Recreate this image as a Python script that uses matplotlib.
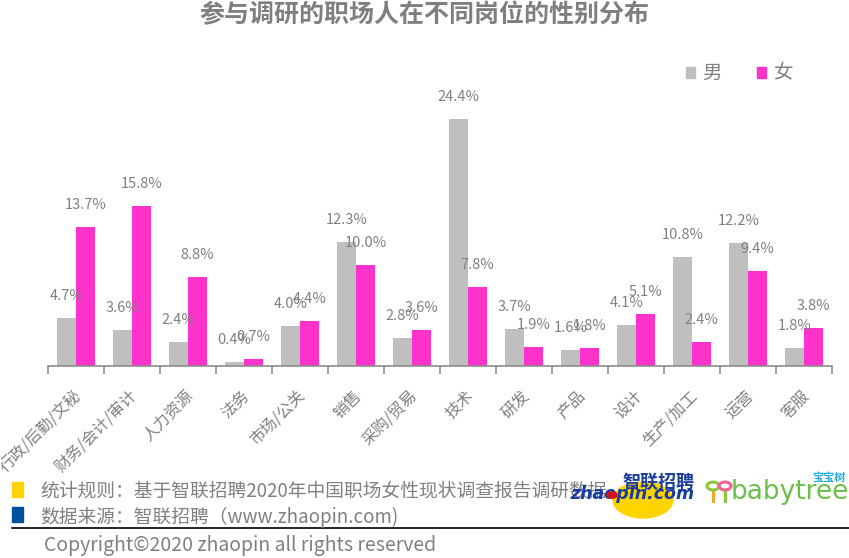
import matplotlib
matplotlib.use('Agg')
import matplotlib.pyplot as plt
import numpy as np
from matplotlib.patches import Ellipse, Circle, Rectangle

plt.rcParams['font.family'] = ['Noto Sans CJK SC', 'DejaVu Sans']

TITLE = '参与调研的职场人在不同岗位的性别分布'
categories = ['行政/后勤/文秘', '财务/会计/审计', '人力资源', '法务', '市场/公关', '销售',
              '采购/贸易', '技术', '研发', '产品', '设计', '生产/加工', '运营', '客服']
male = [4.7, 3.6, 2.4, 0.4, 4.0, 12.3, 2.8, 24.4, 3.7, 1.6, 4.1, 10.8, 12.2, 1.8]
female = [13.7, 15.8, 8.8, 0.7, 4.4, 10.0, 3.6, 7.8, 1.9, 1.8, 5.1, 2.4, 9.4, 3.8]
series_names = ['男', '女']
note_rule = '统计规则：基于智联招聘2020年中国职场女性现状调查报告调研数据'
note_source = '数据来源：智联招聘（www.zhaopin.com)'
copyright_text = 'Copyright©2020 zhaopin all rights reserved'

GRAY_BAR = '#bfbfbf'
PINK = '#ff33cc'
TEXT = '#808080'
LOGO_BLUE = '#1a3c9c'

W, H = 849, 558
fig = plt.figure(figsize=(W / 100, H / 100), dpi=100)

# main axes: x 48..832 px, baseline at y=366, 10.12 px per %
ax_l, ax_r, ax_b = 48 / W, 832 / W, 1 - 366 / H
ymax = 27.0
ax_h = ymax * 10.12 / H
ax = fig.add_axes([ax_l, ax_b, ax_r - ax_l, ax_h])

x = np.arange(len(categories))
bw = 0.34
ax.bar(x - bw / 2, male, bw, color=GRAY_BAR, label=series_names[0])
ax.bar(x + bw / 2, female, bw, color=PINK, label=series_names[1])

off = 22 / 10.12  # label offset above bar top, in data units
for xi, m, f in zip(x, male, female):
    ax.text(xi - bw / 2, m + off, f'{m:.1f}%', ha='center', va='center',
            fontsize=10.5, color=TEXT)
    ax.text(xi + bw / 2, f + off, f'{f:.1f}%', ha='center', va='center',
            fontsize=10.5, color=TEXT)

ax.set_xlim(-0.5, len(categories) - 0.5)
ax.set_ylim(0, ymax)
for s in ['top', 'right', 'left']:
    ax.spines[s].set_visible(False)
ax.spines['bottom'].set_color('#8c8c8c')
ax.spines['bottom'].set_linewidth(1.2)
ax.set_yticks([])
ax.set_xticks(np.arange(len(categories) + 1) - 0.5)
ax.set_xticklabels([])
ax.tick_params(axis='x', length=6, color='#8c8c8c', width=1.2)
for xi, lab in zip(x, categories):
    ax.text(xi - 0.05, -2.1, lab, rotation=45, ha='right', va='top',
            rotation_mode='anchor', fontsize=11.5, color=TEXT)

fig.text(0.5, 1 - 15 / H, TITLE, ha='center', va='center', fontsize=18,
         fontweight='bold', color='#7f7f7f')

# legend
fig.patches.append(Rectangle((686 / W, 1 - 78 / H), 9 / W, 11 / H,
                             transform=fig.transFigure, color=GRAY_BAR))
fig.text(702 / W, 1 - 73 / H, series_names[0], va='center', fontsize=14, color=TEXT)
fig.patches.append(Rectangle((757 / W, 1 - 78 / H), 9 / W, 11 / H,
                             transform=fig.transFigure, color=PINK))
fig.text(773 / W, 1 - 73 / H, series_names[1], va='center', fontsize=14, color=TEXT)

# footer
fig.patches.append(Rectangle((12 / W, 1 - 497 / H), 11 / W, 15 / H,
                             transform=fig.transFigure, color='#ffd200'))
fig.patches.append(Rectangle((12 / W, 1 - 522 / H), 11 / W, 15 / H,
                             transform=fig.transFigure, color='#0050a0'))
fig.text(40 / W, 1 - 491 / H, note_rule, va='center', fontsize=13.5,
         color=TEXT, zorder=1)
fig.text(40 / W, 1 - 517 / H, note_source, va='center', fontsize=13.5, color=TEXT)
fig.add_artist(plt.Line2D([12 / W, 1], [1 - 528 / H, 1 - 528 / H], color='black', lw=1.2))
fig.text(44 / W, 1 - 546 / H, copyright_text, va='center', fontsize=14, color=TEXT)

# logos (approximate)
fig.patches.append(Ellipse((643 / W, 1 - 500 / H), 60 / W, 36 / H,
                           transform=fig.transFigure, color='#ffd400', zorder=3))
fig.text(658 / W, 1 - 482 / H, '智联招聘', ha='center', va='center', fontsize=13,
         fontweight='bold', color=LOGO_BLUE, zorder=4)
fig.text(632 / W, 1 - 494 / H, 'zhaopin.com', ha='center', va='center', fontsize=12.5,
         fontweight='bold', style='italic', color=LOGO_BLUE, zorder=4,
         family='DejaVu Sans')
fig.patches.append(Circle((612 / W, 1 - 495 / H), 5 / W, transform=fig.transFigure,
                          color='#d0141e', zorder=5))
fig.text(790 / W, 1 - 492 / H, 'babytree', ha='center', va='center', fontsize=19,
         color='#6cbf4a', zorder=4, family='DejaVu Sans')
fig.text(829 / W, 1 - 477 / H, '宝宝树', ha='center', va='center', fontsize=8,
         fontweight='bold', color='#27a9e1', zorder=4)
# babytree icon: two rings on stems
for cx, col, stem in [(713, '#8cc63f', '#f5a623'), (725, '#f06292', '#8cc63f')]:
    fig.patches.append(Circle((cx / W, 1 - 486 / H), 6 / W, transform=fig.transFigure,
                              fill=False, edgecolor=col, lw=2.2, zorder=4))
    fig.add_artist(plt.Line2D([cx / W, cx / W], [1 - 492 / H, 1 - 501 / H],
                              color=stem, lw=2.2, zorder=4))

fig.savefig('out.png', dpi=100)
